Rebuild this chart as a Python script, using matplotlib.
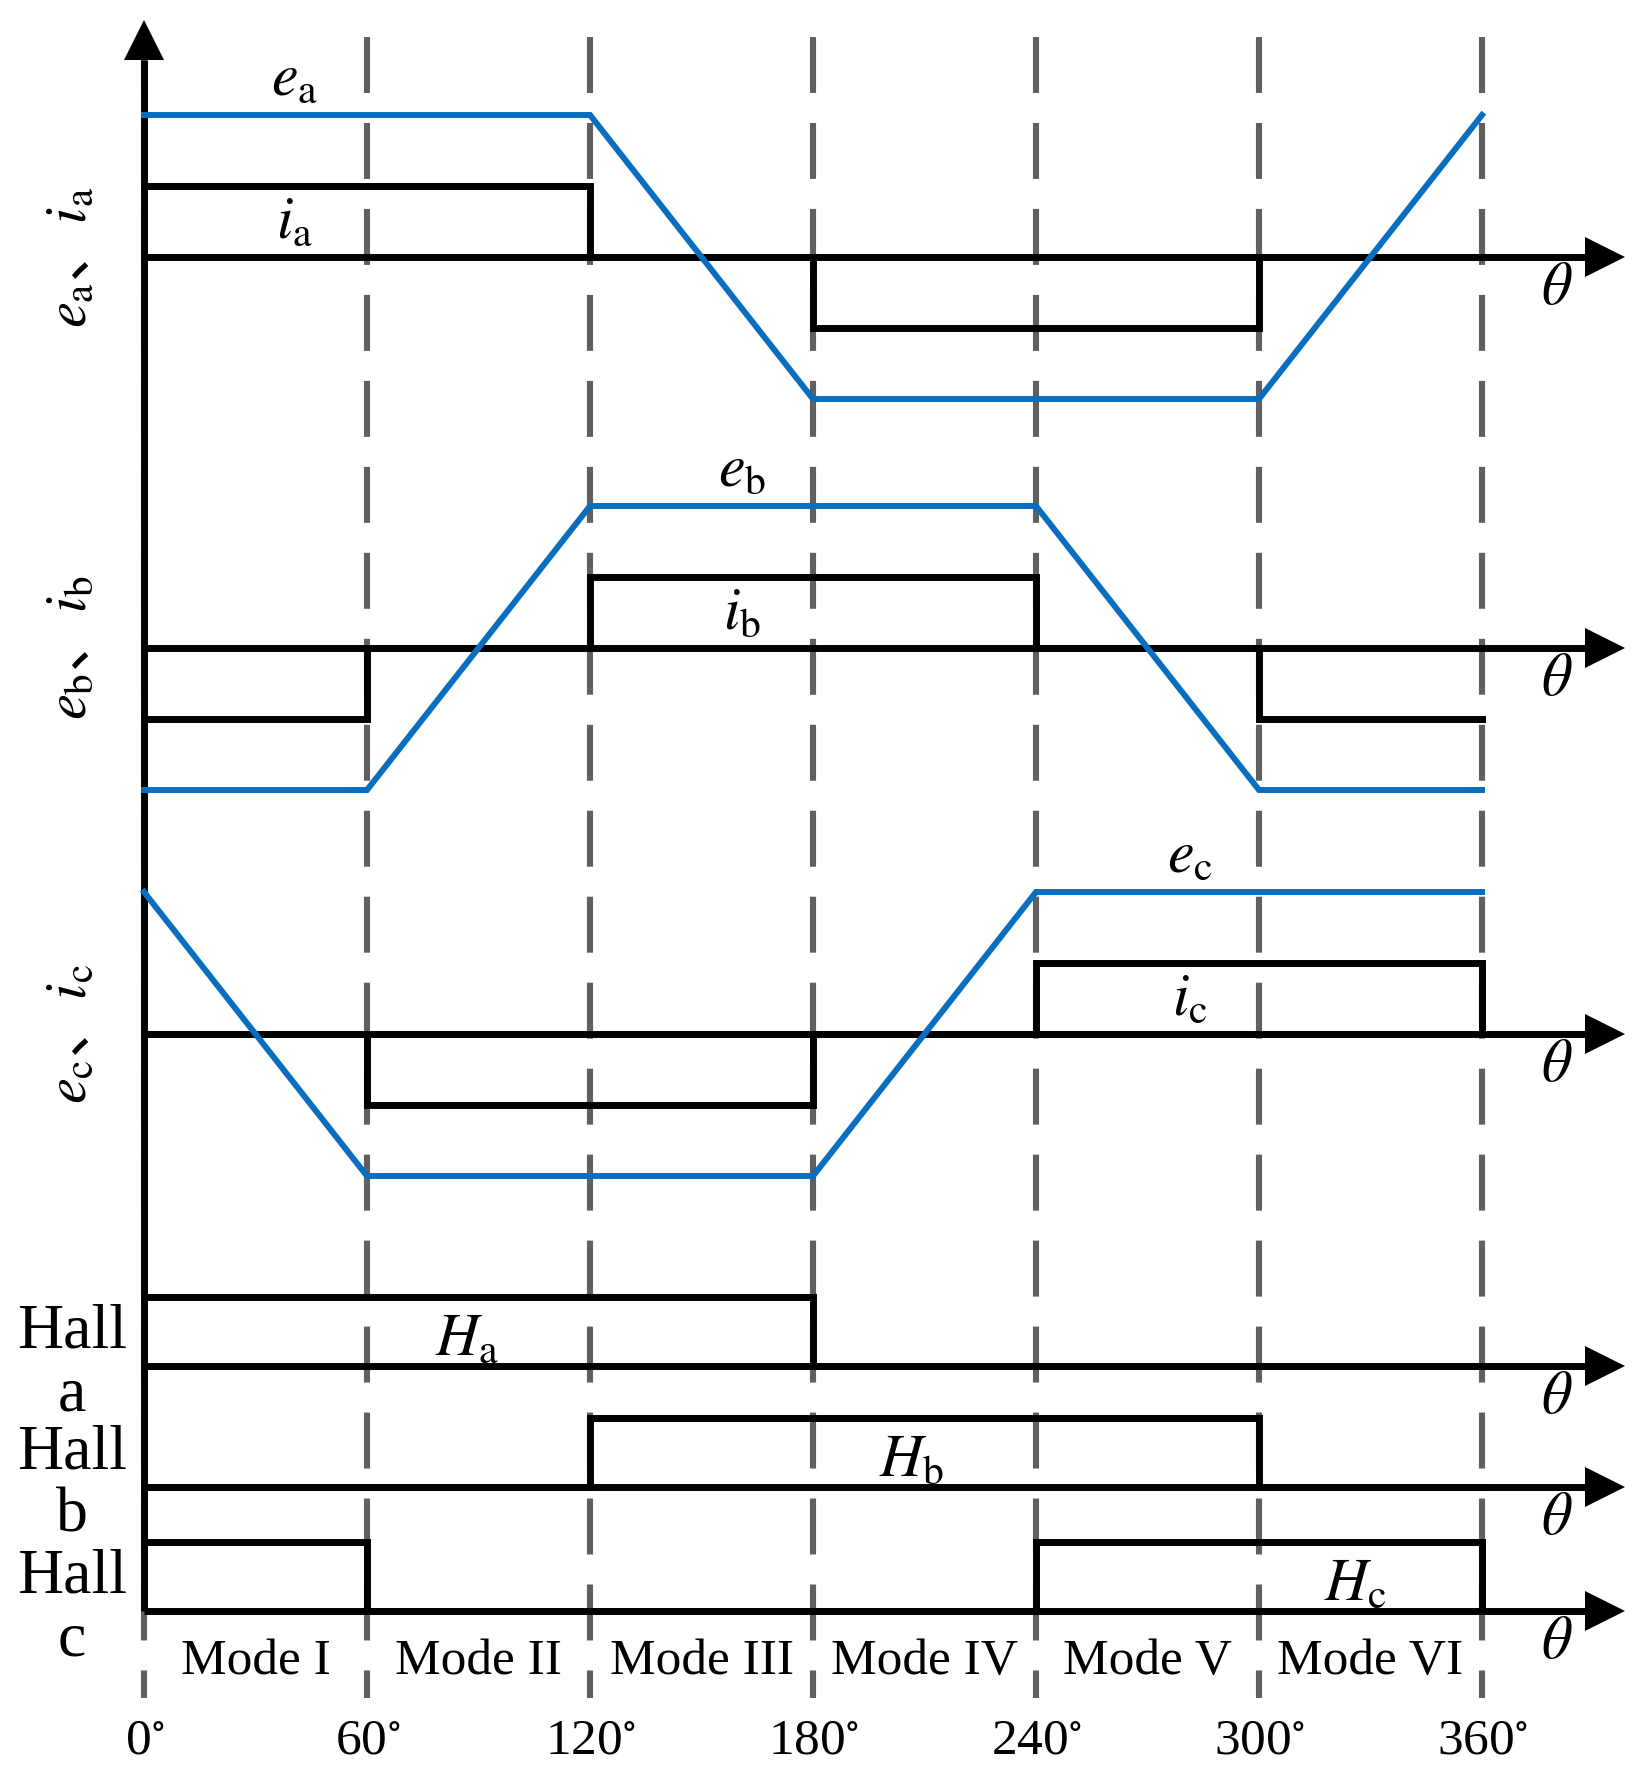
import matplotlib
matplotlib.use('Agg')
import matplotlib.pyplot as plt

plt.rcParams['font.family'] = ['Liberation Serif', 'Noto Sans CJK SC', 'DejaVu Sans']
plt.rcParams['mathtext.fontset'] = 'stix'
plt.rcParams['lines.scale_dashes'] = False

# ---------------- data ----------------
theta_knots = [0, 60, 120, 180, 240, 300, 360]          # back-EMF corner angles
e_a = [1, 1, 1, -1, -1, -1, 1]
e_b = [-1, -1, 1, 1, 1, -1, -1]
e_c = [1, -1, -1, -1, 1, 1, 1]

sector_edges = [0, 60, 120, 180, 240, 300, 360]
i_a = [0.5, 0.5, 0, -0.5, -0.5, 0]
i_b = [-0.5, 0, 0.5, 0.5, 0, -0.5]
i_c = [0, -0.5, -0.5, 0, 0.5, 0.5]
i_end = [0, -0.5, 0]            # level drawn at 360 deg

H_a = [1, 1, 1, 0, 0, 0]
H_b = [0, 0, 1, 1, 1, 0]
H_c = [1, 0, 0, 0, 1, 1]
H_end = [0, 0, 0]

phase_names = ['a', 'b', 'c']
mode_labels = ['Mode I', 'Mode II', 'Mode III', 'Mode IV', 'Mode V', 'Mode VI']
degree_ticks = [0, 60, 120, 180, 240, 300, 360]
label_theta_e = [40.5, 161, 281.5]
label_theta_H = [87, 206.5, 326]

# ---------------- layout (pixels) ----------------
W, H = 1644, 1768
X0 = 144.0
PPD = 223.0 / 60.0          # pixels per degree
def deg(px):
    return (px - X0) / PPD

panel_base = [257, 648, 1034]
hall_base = [1366, 1487, 1611]
E_SCALE = 142
H_SCALE = 69
ARROW_TIP = 1625
ARROW_LEN = 40

BLUE = '#0A6EC0'
GRAY = '#606060'
LW_K = 5.0
LW_B = 4.3
LW_D = 4.4

fig = plt.figure(figsize=(W / 100, H / 100), dpi=100)
ax = fig.add_axes([0, 0, 1, 1])
ax.set_xlim(deg(0), deg(W))
ax.set_ylim(H, 0)
ax.axis('off')

# dashed sector lines
for t in degree_ticks:
    ax.plot([t, t], [37, 1698], color=GRAY, lw=LW_D, dashes=(40.3, 21.6),
            dash_capstyle='butt', zorder=1)

# vertical axis with arrow
ax.plot([0, 0], [hall_base[-1], 20 + ARROW_LEN], color='k', lw=LW_K, zorder=4,
        solid_capstyle='butt')
ax.plot([0], [20 + ARROW_LEN / 2], marker='^', ms=ARROW_LEN / 1.389, color='k',
        mew=0, zorder=5)

def h_axis(y):
    ax.plot([0, deg(ARROW_TIP - ARROW_LEN)], [y, y], color='k', lw=LW_K, zorder=4,
            solid_capstyle='butt')
    ax.plot([deg(ARROW_TIP - ARROW_LEN / 2)], [y], marker='>', ms=ARROW_LEN / 1.389,
            color='k', mew=0, zorder=5)
    ax.text(deg(1557), y + 33, r'$\theta$', fontsize=43, ha='center', va='center')

e_list = [e_a, e_b, e_c]
i_list = [i_a, i_b, i_c]
for k in range(3):
    y0 = panel_base[k]
    h_axis(y0)
    ey = [y0 - v * E_SCALE for v in e_list[k]]
    ax.plot(theta_knots, ey, color=BLUE, lw=LW_B, zorder=6, solid_joinstyle='miter')
    iy = [y0 - v * E_SCALE for v in i_list[k] + [i_end[k]]]
    ax.plot(sector_edges, iy, color='k', lw=LW_K, drawstyle='steps-post', zorder=4,
            solid_joinstyle='miter')
    p = phase_names[k]
    ax.text(label_theta_e[k], y0 - E_SCALE - 20, r'$e_{\rm %s}$' % p, fontsize=43,
            ha='center', va='baseline')
    ax.text(label_theta_e[k], y0 - 19, r'$i_{\rm %s}$' % p, fontsize=43,
            ha='center', va='baseline')
    ax.text(deg(70), y0, r'$e_{\rm %s}$、$i_{\rm %s}$' % (p, p), fontsize=42,
            family='Noto Sans CJK SC', rotation=90, ha='center', va='center')

H_list = [H_a, H_b, H_c]
for k in range(3):
    y0 = hall_base[k]
    h_axis(y0)
    hy = [y0 - v * H_SCALE for v in H_list[k] + [H_end[k]]]
    ax.plot(sector_edges, hy, color='k', lw=LW_K, drawstyle='steps-post', zorder=4,
            solid_joinstyle='miter')
    p = phase_names[k]
    ax.text(label_theta_H[k], y0 - 11, r'$H_{\rm %s}$' % p, fontsize=43,
            ha='center', va='baseline')
    ax.text(deg(72), y0 - 2, 'Hall\n%s' % p, fontsize=46, ha='center', va='center',
            multialignment='center', linespacing=1.1)

# mode labels
for m, name in enumerate(mode_labels):
    ax.text((sector_edges[m] + sector_edges[m + 1]) / 2, 1662, name, fontsize=37,
            ha='center', va='center')

# degree labels
for t in degree_ticks:
    ax.text(t + deg(X0 + 1), 1753, r'%d$^{\circ}$' % t, fontsize=37,
            ha='center', va='baseline')

fig.savefig('out.png', dpi=100)
